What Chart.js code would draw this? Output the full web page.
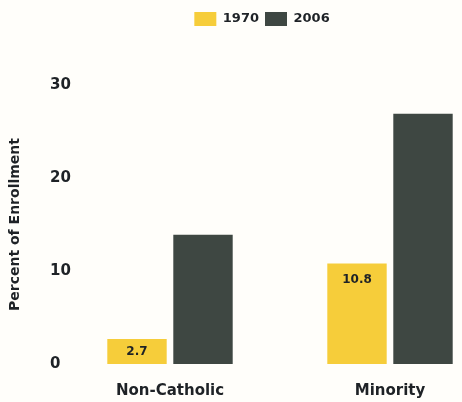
<!DOCTYPE html>
<html lang="en">
<head>
    <meta charset="UTF-8">
    <title>Percent of Enrollment</title>
    <script src="https://cdn.jsdelivr.net/npm/chart.js"></script>
    <style>
        body { margin: 0; background: #fffefa; overflow: hidden; }
        #wrap { width: 500px; height: 402px; }
    </style>
</head>
<body>
    <div id="wrap"><canvas id="enrollChart"></canvas></div>

    <script>
// values
const categories = ['Non-Catholic', 'Minority'];
const years = ['1970', '2006'];
const values1970 = [2.7, 10.8];
const values2006 = [13.9, 26.9];
const yTicks = [0, 10, 20, 30];

const ink = '#1e2226';

// labels drawn inside the 1970 bars
const barLabels = {
    id: 'barLabels',
    afterDatasetsDraw(chart) {
        const c = chart.ctx;
        const meta = chart.getDatasetMeta(0);
        c.save();
        c.font = 'bold 12px "DejaVu Sans"';
        c.fillStyle = ink;
        c.textAlign = 'center';
        c.textBaseline = 'middle';
        meta.data.forEach((bar, i) => {
            const y = Math.min(bar.y + 16, (bar.y + bar.base) / 2);
            c.fillText(values1970[i].toFixed(1), bar.x, y);
        });
        c.restore();
    }
};

// push the plot down below the legend
const legendGap = {
    id: 'legendGap',
    beforeInit(chart) {
        const fit = chart.legend.fit;
        chart.legend.fit = function () {
            fit.bind(chart.legend)();
            this.height = 79;
        };
    }
};

const ctx = document.getElementById('enrollChart').getContext('2d');
new Chart(ctx, {
    type: 'bar',
    data: {
        labels: categories,
        datasets: [
            { label: years[0], data: values1970, backgroundColor: '#f6cd3a' },
            { label: years[1], data: values2006, backgroundColor: '#3e4742' }
        ]
    },
    options: {
        responsive: true,
        maintainAspectRatio: false,
        animation: false,
        categoryPercentage: 0.6,
        barPercentage: 0.9,
        layout: { padding: { left: 24, right: 0, top: 6, bottom: 0 } },
        scales: {
            x: {
                grid: { display: false },
                border: { display: false },
                afterFit: axis => { axis.height = 38; },
                ticks: {
                    color: ink,
                    font: { family: 'DejaVu Sans', weight: 'bold', size: 15 },
                    padding: 10
                }
            },
            y: {
                min: 0,
                max: 30,
                afterBuildTicks: axis => { axis.ticks = yTicks.map(v => ({ value: v })); },
                afterFit: axis => { axis.width = 36; },
                grid: { display: false },
                border: { display: false },
                ticks: {
                    mirror: true,
                    color: ink,
                    font: { family: 'DejaVu Sans', weight: 'bold', size: 15 },
                    padding: -10
                },
                title: {
                    display: true,
                    text: 'Percent of Enrollment',
                    color: ink,
                    font: { family: 'DejaVu Sans', weight: 'bold', size: 14 },
                    padding: { top: -17, bottom: 0 }
                }
            }
        },
        plugins: {
            legend: {
                position: 'top',
                align: 'center',
                labels: {
                    color: ink,
                    boxWidth: 22,
                    boxHeight: 14,
                    padding: 6,
                    font: { family: 'DejaVu Sans', weight: 'bold', size: 13 }
                }
            },
            tooltip: { enabled: false }
        }
    },
    plugins: [barLabels, legendGap]
});
    </script>
</body>
</html>
